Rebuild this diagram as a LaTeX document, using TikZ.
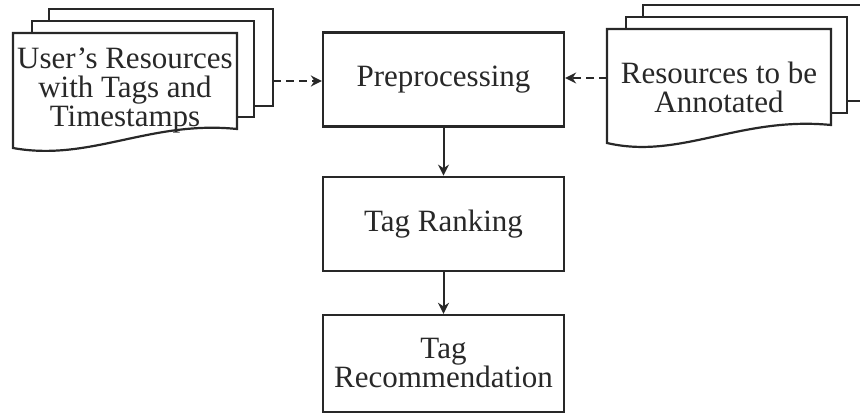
\documentclass[tikz,border=0pt]{standalone}
\usepackage{fontspec}
\setmainfont{Liberation Serif}
\usepackage{tikz}
\usetikzlibrary{arrows.meta,positioning}
\definecolor{inkDark}{RGB}{40,40,40}

\begin{document}
\begin{tikzpicture}[
    x=0.5pt, y=-0.5pt,
    font=\fontsize{15.5}{14.5}\selectfont,
    flow/.style={-{Stealth[length=5.5pt,width=5.5pt]}, line width=1pt, draw=inkDark},
    hint/.style={flow, dash pattern=on 4pt off 2.5pt},
    stage/.style={
      draw=inkDark,
      line width=1.1pt,
      fill=white,
      align=center,
      text=inkDark,
      inner sep=2pt,
      minimum width=120.5pt,
      minimum height=47pt
    },
    sheet/.style={draw=inkDark, fill=white, line width=1.1pt},
    doctext/.style={align=center, text=inkDark, inner sep=0pt}
  ]
    \useasboundingbox (0,0) rectangle (860,412);
    \clip (0,0) rectangle (860,412);

    % stack of the user's resources
    \draw[sheet] (49,9) rectangle (273,106);
    \draw[sheet] (32,21) rectangle (254,117);
    \draw[sheet] (13,33) -- (237,33) -- (237,129)
      .. controls (150,120) and (90,162) .. (13,148) -- cycle;
    \node[doctext] (user) at (125,90) {User’s Resources\\with Tags and\\Timestamps};
    \coordinate (userOut) at (273,81);

    % stack of the resources to annotate
    \draw[sheet] (643,5) rectangle (900,101);
    \draw[sheet] (626,17) rectangle (847,113);
    \draw[sheet] (607,29) -- (831,29) -- (831,125)
      .. controls (740,116) and (680,160) .. (607,143) -- cycle;
    \node[doctext] (target) at (719,87) {Resources to be\\Annotated};
    \coordinate (targetOut) at (607,78);

    \node[stage] (prep) at (443.5,79.5) {Preprocessing};
    \node[stage, below=24pt of prep] (rank) {Tag Ranking};
    \node[stage, below=21pt of rank, minimum height=48.5pt] (rec) {Tag\\Recommendation};

    \draw[hint] (userOut) -- (userOut -| prep.west);
    \draw[hint] (targetOut) -- (targetOut -| prep.east);
    \draw[flow] (prep) -- (rank);
    \draw[flow] (rank) -- (rec);
  \end{tikzpicture}
\end{document}
